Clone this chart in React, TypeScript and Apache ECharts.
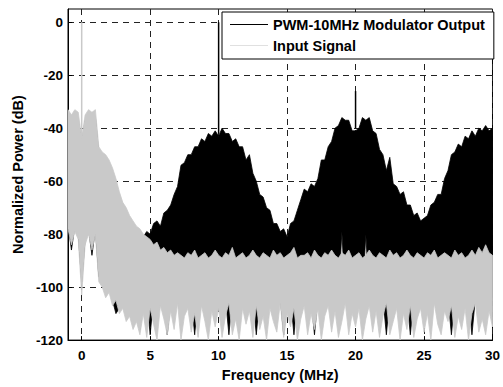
import React, { useEffect, useRef } from "react";
import * as echarts from "echarts";

// Frequency sampling of the envelope arrays (MHz)
const FREQ_START = -1;
const FREQ_STEP = 0.25;

const X_TICKS = [0, 5, 10, 15, 20, 25, 30];
const Y_TICKS = [-120, -100, -80, -60, -40, -20, 0];

// Input signal (gray) upper / lower envelope, dB
const inputTop = [
  -33, -35, -33, -34, -44, -35, -33, -34, -33,
  -47, -49, -50, -52, -55, -59, -64, -68, -70, -73, -75, -77, -78,
  -80, -81, -82, -84, -83, -86, -85, -87, -86, -88, -87, -88,
  -89, -87, -88, -86, -89, -88, -87, -89, -88, -86,
  -88, -89, -87, -88, -85, -89, -88, -87, -89, -88,
  -86, -88, -89, -87, -88, -89, -86, -88, -87, -89,
  -88, -87, -85, -89, -88, -88, -87, -89, -86, -88,
  -89, -87, -88, -86, -88, -89, -87, -88, -86, -89,
  -88, -87, -89, -88, -86, -88, -89, -87, -88, -89,
  -86, -88, -87, -89, -88, -86, -88, -89, -87, -88,
  -89, -87, -88, -86, -89, -88, -87, -88, -89, -86,
  -88, -87, -89, -88, -86, -88, -85, -87, -84, -87, -88,
];
const inputBottom = [
  -78, -84, -79, -82, -103, -84, -80, -86, -80,
  -98, -100, -104, -102, -107, -105, -110, -108, -113, -111, -116, -113, -118,
  -110, -119, -108, -114, -120, -107, -112, -118, -109, -116,
  -106, -120, -111, -108, -117, -110, -119, -107, -113, -120,
  -109, -115, -108, -119, -111, -106, -118, -112, -120, -108,
  -114, -109, -119, -107, -116, -111, -120, -108, -113, -117,
  -106, -119, -110, -115, -108, -120, -112, -107, -118, -110,
  -116, -108, -120, -111, -107, -117, -109, -119, -113, -106,
  -118, -110, -115, -108, -120, -112, -107, -117, -109, -119,
  -111, -106, -118, -113, -108, -120, -110, -116, -107, -119,
  -112, -108, -117, -110, -120, -106, -114, -118, -109, -113,
  -107, -119, -111, -116, -108, -120, -110, -106, -117, -112, -118, -109, -115,
];

// PWM modulator output (black) upper / lower envelope, dB
const outputTop = [
  -36, -37, -36, -37, -46, -37, -36, -37, -36,
  -50, -51, -52, -54, -57, -61, -66, -70, -72, -75, -77, -79, -80,
  -81, -79, -80, -76, -75, -77, -72, -71, -69, -65,
  -62, -54, -53, -50, -50, -47, -47, -44, -45, -42,
  -43, -41, -43, -40, -42, -42, -45, -44, -47, -47,
  -52, -50, -57, -60, -65, -66, -70, -71, -76, -76,
  -79, -78, -81, -76, -75, -71, -67, -63, -64, -61,
  -62, -59, -52, -52, -47, -45, -40, -39, -36, -37,
  -37, -41, -41, -40, -36, -37, -36, -41, -42, -48,
  -50, -56, -51, -61, -62, -65, -64, -69, -69, -73,
  -72, -75, -74, -73, -69, -68, -65, -65, -59, -56,
  -50, -49, -46, -47, -43, -44, -41, -43, -40, -41,
  -39, -41, -40,
];
const outputBottom = [
  -76, -86, -77, -80, -98, -82, -78, -88, -78,
  -96, -98, -102, -100, -105, -110, -108, -106, -111, -109, -114, -111, -116,
  -104, -104, -118, -104, -104, -104, -104, -118, -104, -104,
  -104, -104, -104, -104, -104, -118, -104, -104, -104, -104,
  -104, -104, -104, -104, -104, -118, -104, -104, -104, -104,
  -104, -104, -104, -118, -104, -104, -104, -104, -104, -104,
  -104, -118, -104, -104, -118, -104, -104, -104, -104, -104,
  -118, -104, -104, -104, -104, -104, -104, -104, -79, -104,
  -104, -104, -104, -104, -104, -80, -104, -104, -104, -104,
  -104, -118, -104, -104, -104, -104, -104, -104, -118, -104,
  -104, -104, -104, -104, -104, -104, -104, -104, -104, -104,
  -118, -104, -104, -104, -104, -104, -118, -104, -104, -104,
  -104, -104, -104,
];

// Narrow spectral lines
const inputSpikeFreq = [0];
const inputSpikeTop = [0];
const inputSpikeBase = [-44];
const outputSpikeFreq = [10, 20];
const outputSpikeTop = [0, -26];
const outputSpikeBase = [-42, -40];

const OUTPUT_NAME = "PWM-10MHz Modulator Output";
const INPUT_NAME = "Input Signal";
const BLACK = "#000000";
const GRAY = "#c9c9c9";
const FONT = "'Liberation Sans', Arial, sans-serif";

const freqAt = (i: number) => FREQ_START + FREQ_STEP * i;

function bandData(tops: number[], bots: number[]) {
  return tops.map((t, i) => [freqAt(i), t, bots[i]]);
}

// One closed polygon: along the upper envelope, back along the lower one
function bandRender(tops: number[], bots: number[], color: string) {
  return (params: any, api: any) => {
    if (params.dataIndex !== 0) return null;
    const pts: number[][] = [];
    for (let i = 0; i < tops.length; i++) pts.push(api.coord([freqAt(i), tops[i]]));
    for (let i = bots.length - 1; i >= 0; i--) pts.push(api.coord([freqAt(i), bots[i]]));
    return {
      type: "polygon",
      shape: { points: pts },
      style: { fill: color, stroke: color, lineWidth: 0.8, lineJoin: "miter" },
    };
  };
}

function spikeRender(color: string) {
  return (params: any, api: any) => {
    const a = api.coord([api.value(0), api.value(1)]);
    const b = api.coord([api.value(0), api.value(2)]);
    return {
      type: "line",
      shape: { x1: a[0], y1: a[1], x2: b[0], y2: b[1] },
      style: { stroke: color, lineWidth: 1.5 },
    };
  };
}

export default function App() {
  const ref = useRef<HTMLDivElement>(null);
  useEffect(() => {
    if (!ref.current) return;
    const chart = echarts.init(ref.current, undefined, { renderer: "svg" });
    const gridLine = { show: true, lineStyle: { color: "#222", width: 1, type: [6, 5] as any } };
    chart.setOption({
      animation: false,
      backgroundColor: "#ffffff",
      grid: {
        left: 68,
        right: 5,
        top: 9,
        bottom: 40,
        show: true,
        borderColor: "#000",
        borderWidth: 1,
        backgroundColor: "transparent",
      },
      legend: {
        orient: "vertical",
        left: 222,
        top: 12,
        padding: [5, 9, 6, 8],
        itemGap: 6,
        itemWidth: 38,
        itemHeight: 1.2,
        backgroundColor: "#ffffff",
        borderColor: "#000",
        borderWidth: 1,
        borderRadius: 0,
        textStyle: { fontFamily: FONT, fontWeight: "bold", fontSize: 14.5, color: "#000" },
        data: [
          { name: OUTPUT_NAME, icon: "rect", itemStyle: { color: BLACK } },
          { name: INPUT_NAME, icon: "rect", itemStyle: { color: "#e0e0e0" } },
        ],
      },
      xAxis: {
        type: "value",
        min: -1,
        max: 30,
        name: "Frequency (MHz)",
        nameLocation: "middle",
        nameGap: 24,
        nameTextStyle: { fontFamily: FONT, fontWeight: "bold", fontSize: 14.5, color: "#000" },
        axisLine: { show: true, onZero: false, lineStyle: { color: "#000", width: 1 } },
        axisTick: { show: true, inside: true, length: 4, lineStyle: { color: "#000" }, customValues: X_TICKS },
        axisLabel: {
          customValues: X_TICKS,
          margin: 8,
          fontFamily: FONT,
          fontWeight: "bold",
          fontSize: 13.5,
          color: "#000",
        },
        splitLine: gridLine,
      },
      yAxis: {
        type: "value",
        min: -120,
        max: 5,
        name: "Normalized Power (dB)",
        nameLocation: "middle",
        nameGap: 41,
        nameTextStyle: { fontFamily: FONT, fontWeight: "bold", fontSize: 14.5, color: "#000" },
        axisLine: { show: true, onZero: false, lineStyle: { color: "#000", width: 1 } },
        axisTick: { show: true, inside: true, length: 4, lineStyle: { color: "#000" }, customValues: Y_TICKS },
        axisLabel: {
          customValues: Y_TICKS,
          margin: 5,
          fontFamily: FONT,
          fontWeight: "bold",
          fontSize: 13.5,
          color: "#000",
        },
        splitLine: gridLine,
      },
      series: [
        {
          type: "custom",
          name: OUTPUT_NAME,
          clip: true,
          itemStyle: { color: BLACK },
          encode: { x: 0, y: [1, 2] },
          data: bandData(outputTop, outputBottom),
          renderItem: bandRender(outputTop, outputBottom, BLACK),
          z: 2,
        },
        {
          type: "custom",
          name: OUTPUT_NAME,
          clip: true,
          itemStyle: { color: BLACK },
          encode: { x: 0, y: [1, 2] },
          data: outputSpikeFreq.map((f, i) => [f, outputSpikeTop[i], outputSpikeBase[i]]),
          renderItem: spikeRender(BLACK),
          z: 3,
        },
        {
          type: "custom",
          name: INPUT_NAME,
          clip: true,
          itemStyle: { color: GRAY },
          encode: { x: 0, y: [1, 2] },
          data: bandData(inputTop, inputBottom),
          renderItem: bandRender(inputTop, inputBottom, GRAY),
          z: 4,
        },
        {
          type: "custom",
          name: INPUT_NAME,
          clip: true,
          itemStyle: { color: GRAY },
          encode: { x: 0, y: [1, 2] },
          data: inputSpikeFreq.map((f, i) => [f, inputSpikeTop[i], inputSpikeBase[i]]),
          renderItem: spikeRender(GRAY),
          z: 5,
        },
      ],
    });
    return () => chart.dispose();
  }, []);
  return (
    <div
      ref={ref}
      style={{ position: "fixed", left: 0, top: 0, width: 503, height: 387, background: "#fff" }}
    />
  );
}
